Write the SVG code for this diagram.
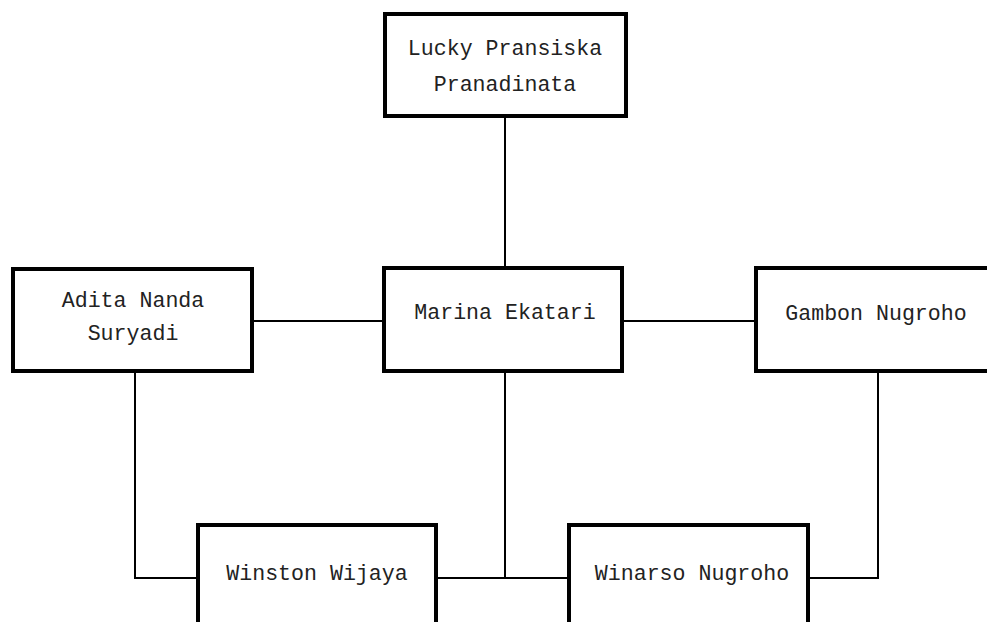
<svg xmlns="http://www.w3.org/2000/svg" width="987" height="622" viewBox="0 0 987 622">
<style>
.box{fill:#fff;stroke:#000;stroke-width:4}
.lbl{font-family:"Liberation Mono","DejaVu Sans Mono",monospace;font-size:21.6px;fill:#222;text-anchor:middle}
.edge{stroke:#000;stroke-width:2;fill:none}
</style>
<rect width="987" height="622" fill="#fff"/>
<g id="connectors">
<line class="edge" x1="505" y1="116" x2="505" y2="268"/>
<line class="edge" x1="252" y1="321" x2="384" y2="321"/>
<line class="edge" x1="622" y1="321" x2="756" y2="321"/>
<line class="edge" x1="505" y1="371" x2="505" y2="578"/>
<polyline class="edge" points="135,371 135,578 198,578"/>
<line class="edge" x1="436" y1="578" x2="569" y2="578"/>
<polyline class="edge" points="808,578 878,578 878,371"/>
</g>
<g id="lucky">
<rect class="box" x="385" y="14" width="241" height="102"/>
<text class="lbl" x="505" y="55">Lucky Pransiska</text>
<text class="lbl" x="505" y="91">Pranadinata</text>
</g>
<g id="adita">
<rect class="box" x="13" y="269" width="239" height="102"/>
<text class="lbl" x="133" y="307">Adita Nanda</text>
<text class="lbl" x="133" y="340">Suryadi</text>
</g>
<g id="marina">
<rect class="box" x="384" y="268" width="238" height="103"/>
<text class="lbl" x="505" y="319">Marina Ekatari</text>
</g>
<g id="gambon">
<rect class="box" x="756" y="268" width="242" height="103"/>
<text class="lbl" x="876" y="320">Gambon Nugroho</text>
</g>
<g id="winston">
<rect class="box" x="198" y="525" width="238" height="110"/>
<text class="lbl" x="317" y="580">Winston Wijaya</text>
</g>
<g id="winarso">
<rect class="box" x="569" y="525" width="239" height="110"/>
<text class="lbl" x="692" y="580">Winarso Nugroho</text>
</g>
</svg>
